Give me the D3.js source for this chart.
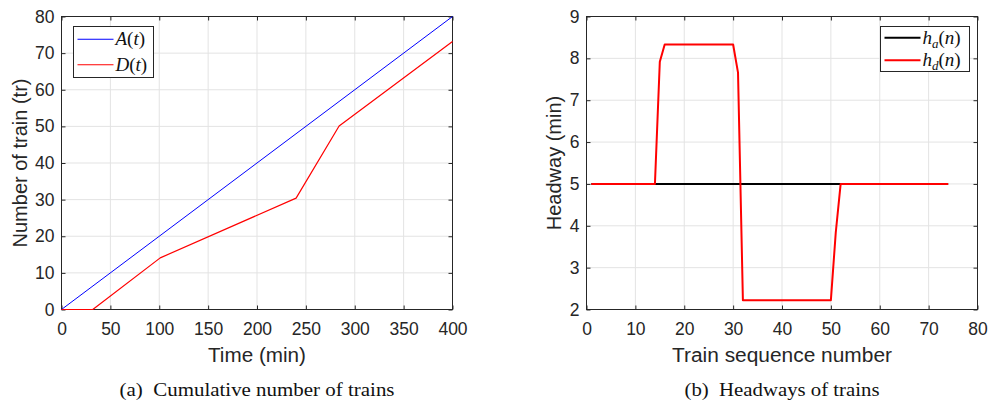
<!DOCTYPE html>
<html>
<head>
<meta charset="utf-8">
<script src="https://cdn.jsdelivr.net/npm/d3@7"></script>
<style>
  html, body { margin: 0; padding: 0; background: #fff; }
  svg { display: block; }
  .tick text { font-family: "Liberation Sans", Arial, sans-serif; font-size: 17.5px; fill: #262626; }
  .axis-title { font-family: "Liberation Sans", Arial, sans-serif; font-size: 20px; fill: #262626; }
  .caption { font-family: "Liberation Serif", "Times New Roman", serif; font-size: 19px; fill: #111; }
  .legend-text { font-family: "Liberation Serif", "Times New Roman", serif; font-size: 19px; fill: #111; }
</style>
</head>
<body>
<svg id="chart" width="988" height="401"></svg>
<script>
// (a) cumulative number of trains
const timeA = [0, 400];
const countA = [0, 80];
const timeD = [0, 32, 101, 240, 284, 400];
const countD = [0, 0, 14.1, 30.4, 50.1, 73.2];
const timeTicks = [0, 50, 100, 150, 200, 250, 300, 350, 400];
const countTicks = [0, 10, 20, 30, 40, 50, 60, 70, 80];

// (b) headways
const seqA = [1, 74];
const headA = [5, 5];
const seqD = [1, 14, 15, 16, 30, 31, 32, 50, 51, 52, 74];
const headD = [5, 5, 7.92, 8.33, 8.33, 7.66, 2.22, 2.22, 3.84, 5, 5];
const seqTicks = [0, 10, 20, 30, 40, 50, 60, 70, 80];
const headTicks = [2, 3, 4, 5, 6, 7, 8, 9];

const svg = d3.select('#chart');
const axisColor = '#262626';
const gridColor = '#e3e3e3';

function panel({ left, right, top, bottom, xDomain, yDomain, xTicks, yTicks, xTitle, xTitleLen, yTitle, yTitleOff, caption, captionLen }) {
  const x = d3.scaleLinear().domain(xDomain).range([left, right]);
  const y = d3.scaleLinear().domain(yDomain).range([bottom, top]);
  const g = svg.append('g');

  // grid
  g.append('g').selectAll('line').data(xTicks).join('line')
    .attr('x1', d => x(d)).attr('x2', d => x(d))
    .attr('y1', top).attr('y2', bottom)
    .attr('stroke', gridColor).attr('stroke-width', 1);
  g.append('g').selectAll('line').data(yTicks).join('line')
    .attr('y1', d => y(d)).attr('y2', d => y(d))
    .attr('x1', left).attr('x2', right)
    .attr('stroke', gridColor).attr('stroke-width', 1);

  // axes, ticks inward on all four sides (box on)
  const tk = 4;
  const styleAxis = sel => {
    sel.select('.domain').remove();
    sel.selectAll('.tick line').attr('stroke', axisColor);
  };
  g.append('g').attr('transform', `translate(0,${bottom})`)
    .call(d3.axisBottom(x).tickValues(xTicks).tickSize(-tk).tickPadding(13.5).tickFormat(d3.format('d')))
    .call(styleAxis);
  g.append('g').attr('transform', `translate(0,${top})`)
    .call(d3.axisTop(x).tickValues(xTicks).tickSize(-tk).tickFormat(''))
    .call(styleAxis);
  g.append('g').attr('transform', `translate(${left},0)`)
    .call(d3.axisLeft(y).tickValues(yTicks).tickSize(-tk).tickPadding(7).tickFormat(d3.format('d')))
    .call(styleAxis);
  g.append('g').attr('transform', `translate(${right},0)`)
    .call(d3.axisRight(y).tickValues(yTicks).tickSize(-tk).tickFormat(''))
    .call(styleAxis);
  g.selectAll('.tick text').attr('fill', axisColor);

  g.append('rect')
    .attr('x', left).attr('y', top)
    .attr('width', right - left).attr('height', bottom - top)
    .attr('fill', 'none').attr('stroke', axisColor).attr('stroke-width', 1);

  const plot = g.append('g');

  g.append('text').attr('class', 'axis-title')
    .attr('x', (left + right) / 2).attr('y', 361.5)
    .attr('text-anchor', 'middle')
    .attr('textLength', xTitleLen).attr('lengthAdjust', 'spacingAndGlyphs')
    .text(xTitle);
  g.append('text').attr('class', 'axis-title')
    .attr('transform', `translate(${left - yTitleOff},${(top + bottom) / 2}) rotate(-90)`)
    .attr('text-anchor', 'middle').text(yTitle);
  g.append('text').attr('class', 'caption')
    .attr('x', (left + right) / 2).attr('y', 396)
    .attr('text-anchor', 'middle').attr('xml:space', 'preserve')
    .attr('textLength', captionLen).attr('lengthAdjust', 'spacingAndGlyphs')
    .text(caption);

  return { x, y, plot, g };
}

function addLine(p, xs, ys, color, width) {
  const pts = xs.map((v, i) => [v, ys[i]]);
  p.plot.append('path')
    .datum(pts)
    .attr('fill', 'none')
    .attr('stroke', color)
    .attr('stroke-width', width)
    .attr('stroke-linejoin', 'round')
    .attr('d', d3.line().x(d => p.x(d[0])).y(d => p.y(d[1])));
}

function legend(p, x0, y0, w, h, items, lineW) {
  const lg = p.g.append('g');
  lg.append('rect').attr('x', x0).attr('y', y0).attr('width', w).attr('height', h)
    .attr('fill', '#fff').attr('stroke', axisColor).attr('stroke-width', 1);
  items.forEach((it, i) => {
    const cy = y0 + h * (i + 0.5) / items.length;
    lg.append('line').attr('x1', x0 + 4).attr('x2', x0 + 40)
      .attr('y1', cy).attr('y2', cy).attr('stroke', it.color).attr('stroke-width', lineW);
    const t = lg.append('text').attr('class', 'legend-text')
      .attr('x', x0 + 42).attr('y', cy + 6);
    it.parts.forEach(pt => {
      const s = t.append('tspan').text(pt.t);
      if (pt.i) s.attr('font-style', 'italic');
      if (pt.sub) s.attr('font-size', '13px').attr('dy', 4);
      if (pt.up) s.attr('dy', -4);
    });
  });
}

// panel (a)
const pa = panel({
  left: 61.5, right: 452.5, top: 16.5, bottom: 309.5,
  xDomain: [0, 400], yDomain: [0, 80],
  xTicks: timeTicks, yTicks: countTicks,
  xTitle: 'Time (min)', xTitleLen: 98,
  yTitle: 'Number of train (tr)', yTitleOff: 34.5,
  caption: '(a)  Cumulative number of trains', captionLen: 275
});
addLine(pa, timeA, countA, '#0000ff', 1);
addLine(pa, timeD, countD, '#ff0000', 1.2);
legend(pa, 73.5, 26.5, 80, 51, [
  { color: '#0000ff', parts: [{ t: 'A', i: true }, { t: '(' }, { t: 't', i: true }, { t: ')' }] },
  { color: '#ff0000', parts: [{ t: 'D', i: true }, { t: '(' }, { t: 't', i: true }, { t: ')' }] }
], 1);

// panel (b)
const pb = panel({
  left: 586.5, right: 977.5, top: 16.5, bottom: 309.5,
  xDomain: [0, 80], yDomain: [2, 9],
  xTicks: seqTicks, yTicks: headTicks,
  xTitle: 'Train sequence number', xTitleLen: 220,
  yTitle: 'Headway (min)', yTitleOff: 26,
  caption: '(b)  Headways of trains', captionLen: 195
});
addLine(pb, seqA, headA, '#000000', 2);
addLine(pb, seqD, headD, '#ff0000', 2);
legend(pb, 880.5, 26.5, 89, 45, [
  { color: '#000000', parts: [{ t: 'h', i: true }, { t: 'a', i: true, sub: true }, { t: '(', up: true }, { t: 'n', i: true }, { t: ')' }] },
  { color: '#ff0000', parts: [{ t: 'h', i: true }, { t: 'd', i: true, sub: true }, { t: '(', up: true }, { t: 'n', i: true }, { t: ')' }] }
], 2);
</script>
</body>
</html>
